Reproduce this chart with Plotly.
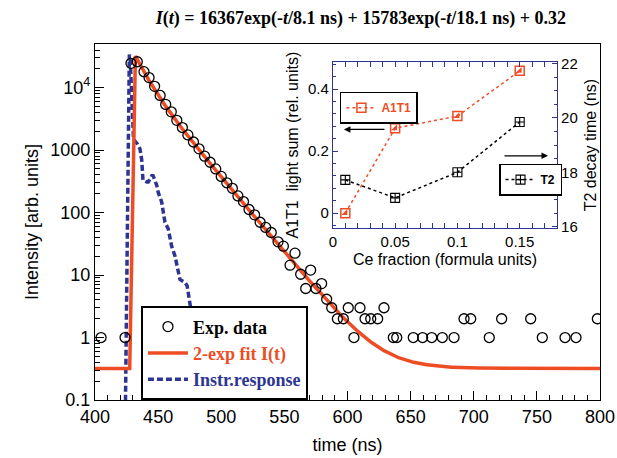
import numpy as np
import plotly.graph_objects as go

# ---------------- main panel data ----------------
# fit parameters (two-exponential decay + constant background)
A1, TAU1 = 16367.0, 8.1
A2, TAU2 = 15783.0, 18.1
BKG = 0.32
T_RISE = 427.5    # end of the flat background before the pulse (ns)
T_START = 432.0   # onset of the exponential decay (ns)

# measured decay (counts)
exp_t = [404.8, 423.8, 428.5, 433.5, 438.8, 442.8, 447.2, 451.6, 456.0, 460.4,
         464.8, 469.2, 473.6, 478.0, 482.4, 486.8, 491.2, 495.6, 500.0, 504.4,
         508.8, 513.2, 517.6, 522.0, 526.4, 530.8, 535.2, 539.6, 545.0, 549.2,
         554.5, 558.4, 562.9, 566.9, 570.8, 575.0, 579.5, 583.5, 587.5, 592.0,
         596.7, 600.6, 605.1, 609.9, 613.9, 618.4, 623.9, 628.9, 636.3, 639.0,
         652.1, 659.5, 666.7, 675.1, 684.4, 692.3, 697.6, 712.3, 722.1, 745.1,
         754.3, 772.3, 781.0, 797.9]
exp_y = [1, 1, 24500, 26000, 18000, 14500, 10500, 7500, 5400, 4100,
         3000, 2300, 1750, 1350, 1050, 800, 640, 500, 380, 300,
         245, 185, 150, 112, 92, 70, 58, 48, 34, 29,
         14.4, 22.4, 10.3, 6.1, 12, 6.1, 7.3, 4.1, 3, 2,
         2, 3, 1, 3, 2, 2, 2, 3, 1, 1,
         1, 1, 1, 1, 1, 2, 2, 1, 2, 2,
         1, 1, 1, 2]

# instrument response
irf_t = [424.0, 424.8, 425.6, 426.4, 427.2, 428.0, 429.0, 430.5, 433.5, 435.6,
         437.0, 438.0, 441.0, 442.2, 445.0, 446.0, 449.0, 450.0, 452.8, 455.4,
         458.0, 460.7, 463.4, 467.3, 471.3, 473.0, 475.0, 478.0, 480.5, 481.0]
irf_y = [0.05, 3, 40, 2500, 34000, 26000, 6000, 1500, 1260, 1050,
         700, 330, 310, 310, 390, 390, 270, 212, 148, 70,
         55, 29, 20, 8.5, 7.6, 6.7, 3.7, 1.5, 0.3, 0.05]

# ---------------- inset data ----------------
ce_frac = [0.01, 0.05, 0.10, 0.15]
a1t1 = [0.0, 0.274, 0.313, 0.459]
t2 = [17.72, 17.06, 18.0, 19.85]

ORANGE = "#EE4D24"
NAVY = "#2D3593"

t_dec = np.linspace(T_START, 800.0, 1500)
y_dec = A1 * np.exp(-(t_dec - T_START) / TAU1) + A2 * np.exp(-(t_dec - T_START) / TAU2) + BKG
t_fit = np.concatenate([[400.0, T_RISE], t_dec])
y_fit = np.concatenate([[BKG, BKG], y_dec])

fig = go.Figure()

fig.add_trace(go.Scatter(
    x=irf_t, y=irf_y, mode="lines",
    name='<b><span style="color:%s">Instr.response</span></b>' % NAVY,
    line=dict(color=NAVY, width=3.5, dash="6px,3px"),
    legend="legend", xaxis="x", yaxis="y"))
fig.add_trace(go.Scatter(
    x=t_fit, y=y_fit, mode="lines",
    name='<b><span style="color:%s">2-exp fit I(t)</span></b>' % ORANGE,
    line=dict(color=ORANGE, width=3.5),
    legend="legend", xaxis="x", yaxis="y"))
fig.add_trace(go.Scatter(
    x=exp_t, y=exp_y, mode="markers", name="<b>Exp. data</b>",
    marker=dict(symbol="circle-open", size=10, color="black", line=dict(width=1.3)),
    legend="legend", xaxis="x", yaxis="y"))

# inset traces
fig.add_trace(go.Scatter(
    x=ce_frac, y=a1t1, mode="lines+markers", name="A1T1",
    line=dict(color=ORANGE, width=1.5, dash="dot"),
    marker=dict(symbol="square-open", size=9, color=ORANGE, line=dict(width=1.5)),
    legend="legend2", xaxis="x2", yaxis="y2"))
fig.add_trace(go.Scatter(
    x=ce_frac, y=a1t1, mode="markers", showlegend=False,
    marker=dict(symbol="triangle-se", size=6.5, color=ORANGE, line=dict(width=0)),
    xaxis="x2", yaxis="y2"))
fig.add_trace(go.Scatter(
    x=ce_frac, y=t2, mode="lines+markers", name="T2",
    line=dict(color="black", width=1.5, dash="dot"),
    marker=dict(symbol="square-cross-open", size=9, color="black", line=dict(width=1.1)),
    legend="legend3", xaxis="x2", yaxis="y3"))

sans = "Arial, Liberation Sans, sans-serif"
serif = "Times New Roman, Liberation Serif, serif"

y_major = [0.1, 1, 10, 100, 1000, 1e4]
y_major_txt = ["0.1", "1", "10", "100", "1000", "10<sup>4</sup>"]
y_minor = [m * 10.0 ** e for e in range(-1, 5) for m in range(2, 10) if m * 10.0 ** e <= 5e4]

inset_tick = dict(ticks="inside", ticklen=5, tickcolor=NAVY, tickwidth=1,
                  showline=True, linecolor=NAVY, linewidth=1,
                  showgrid=False, zeroline=False, automargin=False,
                  tickfont=dict(family=sans, size=15, color="black"))

fig.update_layout(
    width=617, height=458,
    margin=dict(l=95, r=17, t=44, b=58),
    paper_bgcolor="white", plot_bgcolor="white",
    title=dict(
        text="<b><i>I</i>(<i>t</i>) = 16367exp(-<i>t</i>/8.1 ns) + 15783exp(-<i>t</i>/18.1 ns) + 0.32</b>",
        font=dict(family=serif, size=18, color="black"),
        x=0.585, xanchor="center", y=0.962, yanchor="middle"),
    xaxis=dict(
        domain=[0, 1], range=[400, 800], tickvals=list(range(400, 801, 50)),
        ticks="inside", ticklen=9, tickwidth=1, tickcolor="black",
        minor=dict(tickvals=list(range(400, 801, 10)), ticks="inside", ticklen=5, tickcolor="black"),
        showline=True, linecolor="black", linewidth=1.3, mirror=True,
        showgrid=False, zeroline=False, automargin=False,
        tickfont=dict(family=sans, size=18, color="black"),
        title=dict(text="time (ns)", font=dict(family=sans, size=18, color="black"), standoff=12)),
    yaxis=dict(
        domain=[0, 1], type="log", range=[-1, np.log10(5e4)],
        tickvals=y_major, ticktext=y_major_txt,
        ticks="inside", ticklen=9, tickwidth=1, tickcolor="black",
        minor=dict(tickvals=y_minor, ticks="inside", ticklen=5, tickcolor="black"),
        showline=True, linecolor="black", linewidth=1.3, mirror=True,
        showgrid=False, zeroline=False, automargin=False,
        tickfont=dict(family=sans, size=18, color="black"),
        title=dict(text="Intensity [arb. units]", font=dict(family=sans, size=18, color="black"), standoff=6)),
    xaxis2=dict(
        domain=[0.471, 0.915], anchor="y2", range=[0, 0.18],
        tickvals=[0, 0.05, 0.1, 0.15], ticktext=["0", "0.05", "0.1", "0.15"],
        minor=dict(dtick=0.01, ticks="inside", ticklen=3, tickcolor=NAVY),
        mirror="allticks",
        title=dict(text="Ce fraction (formula units)", font=dict(family=sans, size=16, color="black"), standoff=4),
        **inset_tick),
    yaxis2=dict(
        domain=[0.483, 0.949], anchor="x2", range=[-0.048, 0.487],
        tickvals=[0, 0.2, 0.4], ticktext=["0", "0.2", "0.4"],
        minor=dict(dtick=0.04, ticks="inside", ticklen=3, tickcolor=NAVY),
        title=dict(text="A1T1  light sum (rel. units)", font=dict(family=sans, size=16, color="black"), standoff=5),
        **inset_tick),
    yaxis3=dict(
        anchor="x2", overlaying="y2", side="right", range=[15.95, 22.05],
        tickvals=[16, 18, 20, 22],
        minor=dict(dtick=0.5, ticks="inside", ticklen=3, tickcolor=NAVY),
        title=dict(text="T2 decay time (ns)", font=dict(family=sans, size=16, color="black"), standoff=8),
        **inset_tick),
    legend=dict(
        x=0.091, y=0.263, xanchor="left", yanchor="top",
        bordercolor="black", borderwidth=2, bgcolor="white",
        font=dict(family=serif, size=18, color="black"),
        traceorder="reversed", itemwidth=40, tracegroupgap=0),
    legend2=dict(
        x=0.485, y=0.866, xanchor="left", yanchor="top",
        bordercolor="black", borderwidth=1.5, bgcolor="white",
        font=dict(family=sans, size=12, color=ORANGE, weight="bold"), itemwidth=30),
    legend3=dict(
        x=0.80, y=0.664, xanchor="left", yanchor="top",
        bordercolor="black", borderwidth=1.5, bgcolor="white",
        font=dict(family=sans, size=12, color="black", weight="bold"), itemwidth=30),
    showlegend=True,
)

# arrows pointing to the axis each inset series belongs to
fig.add_annotation(x=0.493, y=0.760, xref="paper", yref="paper", ax=42, ay=0,
                   axref="pixel", ayref="pixel", text="", showarrow=True,
                   arrowhead=2, arrowsize=1, arrowwidth=1.3, arrowcolor="black")
fig.add_annotation(x=0.897, y=0.686, xref="paper", yref="paper", ax=-45, ay=0,
                   axref="pixel", ayref="pixel", text="", showarrow=True,
                   arrowhead=2, arrowsize=1, arrowwidth=1.3, arrowcolor="black")

fig.write_html("out.html")
